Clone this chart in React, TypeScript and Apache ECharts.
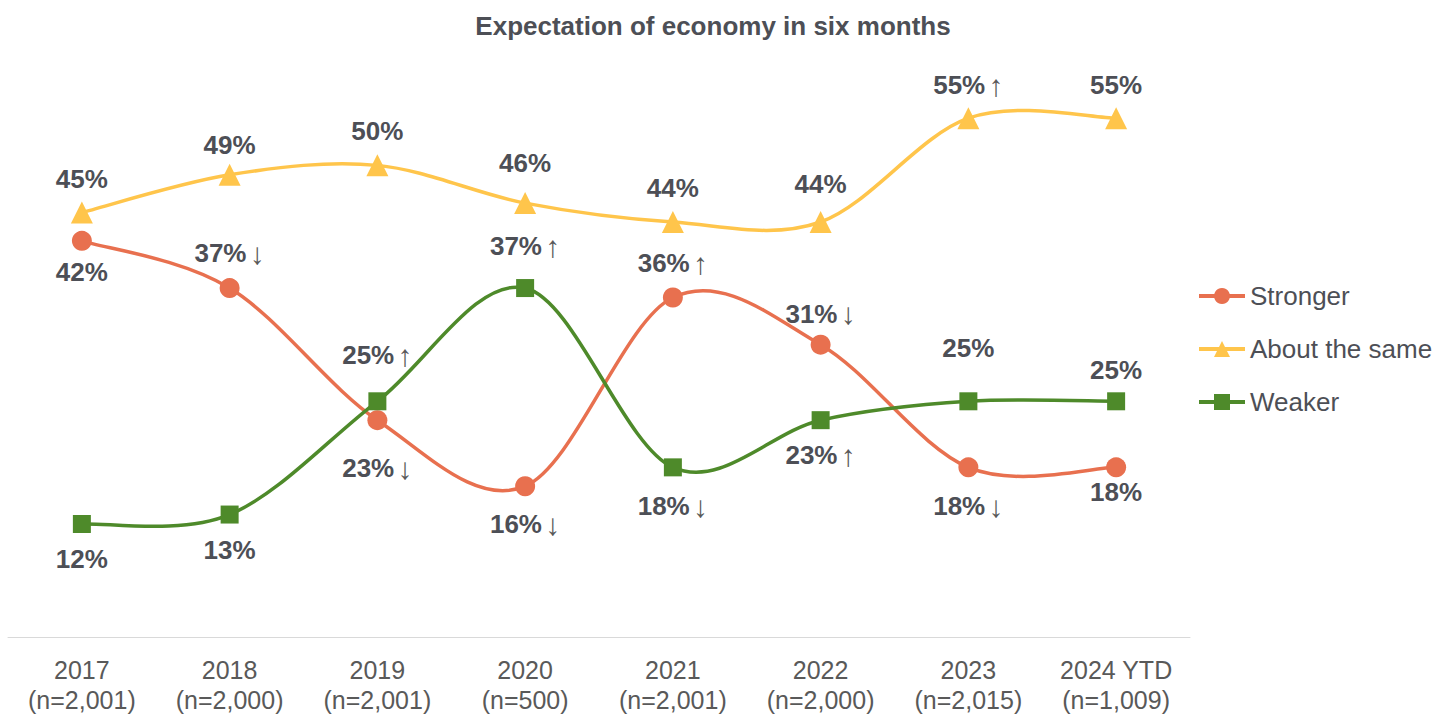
import React, { useEffect, useRef } from "react";
import * as echarts from "echarts";

const categories = [
  "2017\n(n=2,001)",
  "2018\n(n=2,000)",
  "2019\n(n=2,001)",
  "2020\n(n=500)",
  "2021\n(n=2,001)",
  "2022\n(n=2,000)",
  "2023\n(n=2,015)",
  "2024 YTD\n(n=1,009)",
];
const stronger = [42, 37, 23, 16, 36, 31, 18, 18];
const aboutSame = [45, 49, 50, 46, 44, 44, 55, 55];
const weaker = [12, 13, 25, 37, 18, 23, 25, 25];

const strongerArrows = ["", "↓", "↓", "↓", "↑", "↓", "↓", ""];
const aboutSameArrows = ["", "", "", "", "", "", "↑", ""];
const weakerArrows = ["", "", "↑", "↑", "↓", "↑", "", ""];

// label vertical offsets (layout, px)
const strongerLabelDy = [31, -35, 48, 38, -34, -31, 39, 25];
const aboutSameLabelDy = [-34, -30, -34, -40, -34, -38, -33, -33];
const weakerLabelDy = [35, 35, -46, -42, 39, 35, -53, -31];

const FONT = "'Liberation Sans', Arial, sans-serif";
const TEXT = "#4D4F56";
const AXIS_TEXT = "#595959";
const LINE_W = 3.5;

const C_STRONG = "#E8704F";
const C_SAME = "#FFC54B";
const C_WEAK = "#4E8A2A";

// Catmull-Rom style smooth curve drawn through the axes' coordinates
function curveSeries(name: string, values: number[], color: string) {
  const n = values.length;
  return {
    name,
    type: "custom",
    silent: true,
    encode: { x: 0, y: 1 },
    data: values.map((v, i) => [i, v]),
    renderItem: (params: any, api: any) => {
      const i = params.dataIndex;
      if (i >= n - 1) return { type: "group", children: [] };
      const pt = (k: number) => {
        const kk = Math.max(0, Math.min(n - 1, k));
        return api.coord([kk, values[kk]]);
      };
      const p0 = pt(i - 1);
      const p1 = pt(i);
      const p2 = pt(i + 1);
      const p3 = pt(i + 2);
      return {
        type: "bezierCurve",
        shape: {
          x1: p1[0],
          y1: p1[1],
          x2: p2[0],
          y2: p2[1],
          cpx1: p1[0] + (p2[0] - p0[0]) / 6,
          cpy1: p1[1] + (p2[1] - p0[1]) / 6,
          cpx2: p2[0] - (p3[0] - p1[0]) / 6,
          cpy2: p2[1] - (p3[1] - p1[1]) / 6,
        },
        style: { stroke: color, lineWidth: LINE_W, fill: "none", lineCap: "round" },
      };
    },
    z: 1,
  };
}

function markSeries(
  name: string,
  values: number[],
  arrows: string[],
  dys: number[],
  color: string,
  symbol: string,
  symbolSize: number
) {
  return {
    name,
    type: "line",
    symbol,
    symbolSize,
    showAllSymbol: true,
    lineStyle: { color, width: LINE_W, opacity: 0 },
    itemStyle: { color },
    data: values.map((v, i) => ({ value: v, label: { offset: [0, dys[i]] } })),
    label: {
      show: true,
      position: "inside",
      formatter: (p: any) =>
        arrows[p.dataIndex]
          ? `{v|${p.value}%} {a|${arrows[p.dataIndex]}}`
          : `{v|${p.value}%}`,
      rich: {
        v: { fontFamily: FONT, fontSize: 26, fontWeight: "bold", color: TEXT },
        a: { fontFamily: FONT, fontSize: 30, fontWeight: "normal", color: AXIS_TEXT },
      },
    },
    emphasis: { disabled: true },
    z: 3,
  };
}

export default function App() {
  const ref = useRef<HTMLDivElement>(null);
  useEffect(() => {
    if (!ref.current) return;
    const chart = echarts.init(ref.current, null, { renderer: "svg" });
    chart.setOption({
      animation: false,
      backgroundColor: "#ffffff",
      title: {
        text: "Expectation of economy in six months",
        left: 708,
        textAlign: "center",
        top: 8,
        textStyle: { fontFamily: FONT, fontSize: 26, fontWeight: "bold", color: TEXT },
      },
      legend: {
        orient: "vertical",
        left: 1197,
        top: 283,
        padding: 0,
        itemWidth: 46,
        itemHeight: 20,
        itemGap: 27,
        textStyle: { fontFamily: FONT, fontSize: 26, color: TEXT, lineHeight: 26 },
        data: [
          { name: "Stronger", lineStyle: { color: C_STRONG, width: 4, opacity: 1 } },
          { name: "About the same", lineStyle: { color: C_SAME, width: 4, opacity: 1 } },
          { name: "Weaker", lineStyle: { color: C_WEAK, width: 4, opacity: 1 } },
        ],
      },
      grid: { left: 8, right: 243, top: 71, bottom: 78, containLabel: false },
      xAxis: {
        type: "category",
        data: categories,
        boundaryGap: true,
        axisLine: { lineStyle: { color: "#D9D9D9", width: 1 } },
        axisTick: { show: false },
        axisLabel: {
          fontFamily: FONT,
          fontSize: 25,
          lineHeight: 30,
          color: AXIS_TEXT,
          margin: 14,
          interval: 0,
        },
      },
      yAxis: {
        type: "value",
        min: -0.4,
        max: 60,
        show: false,
        splitLine: { show: false },
      },
      series: [
        curveSeries("Stronger curve", stronger, C_STRONG),
        curveSeries("About the same curve", aboutSame, C_SAME),
        curveSeries("Weaker curve", weaker, C_WEAK),
        markSeries("Stronger", stronger, strongerArrows, strongerLabelDy, C_STRONG, "circle", 20),
        markSeries("About the same", aboutSame, aboutSameArrows, aboutSameLabelDy, C_SAME, "triangle", 22),
        markSeries("Weaker", weaker, weakerArrows, weakerLabelDy, C_WEAK, "rect", 18),
      ],
    });
    return () => chart.dispose();
  }, []);
  return (
    <div
      ref={ref}
      style={{ position: "absolute", left: 0, top: 0, width: 1433, height: 719 }}
    />
  );
}
